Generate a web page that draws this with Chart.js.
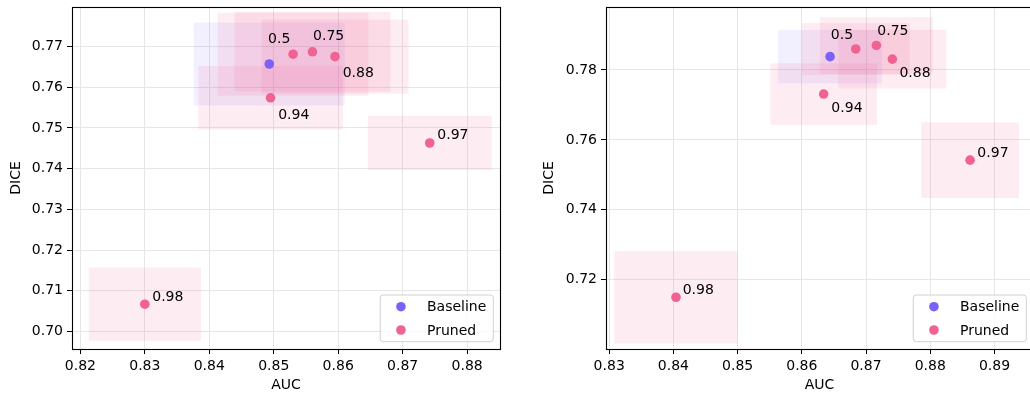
<!DOCTYPE html>
<html>
<head>
<meta charset="utf-8">
<script src="https://cdn.jsdelivr.net/npm/chart.js@4.4.1/dist/chart.umd.min.js"></script>
<style>
  html, body { margin: 0; padding: 0; background: #fff; overflow: hidden; }
  #wrap { position: relative; width: 1030px; height: 397px; overflow: hidden; }
  #left { position: absolute; left: 0; top: 0; }
  #right { position: absolute; left: 530px; top: 0; }
</style>
</head>
<body>
<div id="wrap">
  <canvas id="left" width="530" height="397"></canvas>
  <canvas id="right" width="530" height="397"></canvas>
</div>
<script>
// Pruning ratios of the pruned models
const pruneRatios = ['0.5', '0.75', '0.88', '0.94', '0.97', '0.98'];

// Left panel: mean AUC / DICE and their standard deviations
const baselineAucA = 0.8493;
const baselineDiceA = 0.7657;
const baselineAucStdA = 0.0117;
const baselineDiceStdA = 0.0102;
const prunedAucA = [0.8530, 0.8560, 0.8595, 0.8495, 0.8742, 0.8300];
const prunedDiceA = [0.7681, 0.7687, 0.7675, 0.7574, 0.7463, 0.7067];
const prunedAucStdA = [0.0117, 0.0121, 0.0114, 0.0112, 0.0096, 0.0087];
const prunedDiceStdA = [0.0102, 0.0098, 0.0091, 0.0078, 0.0067, 0.0090];
const xTicksA = [0.82, 0.83, 0.84, 0.85, 0.86, 0.87, 0.88];
const yTicksA = [0.70, 0.71, 0.72, 0.73, 0.74, 0.75, 0.76, 0.77];

// Right panel
const baselineAucB = 0.8644;
const baselineDiceB = 0.7838;
const baselineAucStdB = 0.0081;
const baselineDiceStdB = 0.0076;
const prunedAucB = [0.8684, 0.8716, 0.8741, 0.8634, 0.8862, 0.8404];
const prunedDiceB = [0.7860, 0.7870, 0.7831, 0.7731, 0.7542, 0.7150];
const prunedAucStdB = [0.0084, 0.0088, 0.0084, 0.0083, 0.0076, 0.0096];
const prunedDiceStdB = [0.0074, 0.0081, 0.0084, 0.0088, 0.0108, 0.0132];
const xTicksB = [0.83, 0.84, 0.85, 0.86, 0.87, 0.88, 0.89];
const yTicksB = [0.72, 0.74, 0.76, 0.78];

// ---- styling ----
const FONT = 'DejaVu Sans';
const BASE_COLOR = '#7b61f8';
const PRUNED_COLOR = '#f06292';
const BASE_BOX = 'rgba(123, 97, 248, 0.10)';
const PRUNED_BOX = 'rgba(240, 98, 146, 0.12)';
const GRID_COLOR = '#e6e6e6';

// text placement of the ratio annotations, relative to each point (left x, baseline y)
const labelPlacementA = [[-25, -11], [0.6, -12], [7.7, 20.6], [7.6, 21.3], [7.6, -4], [7.4, -3.6]];
const labelPlacementB = [[-25, -9.7], [1, -10], [7, 17.4], [7.7, 17.7], [7.3, -3.3], [6.7, -3.4]];

function panelPlugin(p) {
  return {
    id: 'panelDecor',
    beforeDatasetsDraw(chart) {
      const { ctx, chartArea: a, scales: { x, y } } = chart;
      ctx.save();
      ctx.beginPath();
      ctx.rect(a.left, a.top, a.right - a.left, a.bottom - a.top);
      ctx.clip();
      const box = (cx, cy, sx, sy, fill) => {
        const x0 = x.getPixelForValue(cx - sx), x1 = x.getPixelForValue(cx + sx);
        const y0 = y.getPixelForValue(cy + sy), y1 = y.getPixelForValue(cy - sy);
        ctx.fillStyle = fill;
        ctx.fillRect(x0, y0, x1 - x0, y1 - y0);
      };
      box(p.baseAuc, p.baseDice, p.baseAucStd, p.baseDiceStd, BASE_BOX);
      p.auc.forEach((v, i) => box(v, p.dice[i], p.aucStd[i], p.diceStd[i], PRUNED_BOX));
      ctx.restore();
    },
    afterDatasetsDraw(chart) {
      const { ctx, scales: { x, y } } = chart;
      ctx.save();
      ctx.font = '14px "' + FONT + '"';
      ctx.fillStyle = '#000';
      ctx.textAlign = 'left';
      ctx.textBaseline = 'alphabetic';
      p.auc.forEach((v, i) => {
        const px = x.getPixelForValue(v), py = y.getPixelForValue(p.dice[i]);
        const [dx, dy] = p.labelPlacement[i];
        ctx.fillText(pruneRatios[i], px + dx, py + dy);
      });
      ctx.restore();
    },
    afterDraw(chart) {
      const { ctx, chartArea: a } = chart;
      ctx.save();
      // frame
      ctx.strokeStyle = '#000';
      ctx.lineWidth = 1.1;
      ctx.strokeRect(Math.round(a.left) + 0.5, Math.round(a.top) + 0.5,
        Math.round(a.right - a.left), Math.round(a.bottom - a.top));
      // legend inside the lower right corner
      ctx.font = '14px "' + FONT + '"';
      const tw = Math.max(...chart.data.datasets.map(d => ctx.measureText(d.label).width));
      const w = 46.7 + tw + 7, h = 46.7;
      const bx = a.right - 6.7 - w, by = a.bottom - 7.3 - h;
      ctx.beginPath();
      ctx.roundRect(bx, by, w, h, 3);
      ctx.fillStyle = 'rgba(255,255,255,0.8)';
      ctx.fill();
      ctx.strokeStyle = '#d0d0d0';
      ctx.lineWidth = 1;
      ctx.stroke();
      ctx.textBaseline = 'middle';
      ctx.textAlign = 'left';
      chart.data.datasets.forEach((d, i) => {
        const ry = by + 11.7 + i * 23.3;
        ctx.beginPath();
        ctx.arc(bx + 20.7, ry, 4.8, 0, Math.PI * 2);
        ctx.fillStyle = d.backgroundColor;
        ctx.fill();
        ctx.fillStyle = '#000';
        ctx.fillText(d.label, bx + 46.7, ry + 1);
      });
      ctx.restore();
    }
  };
}

function makePanel(id, p) {
  const tickFont = { family: FONT, size: 14 };
  new Chart(document.getElementById(id), {
    type: 'scatter',
    data: {
      datasets: [
        {
          label: 'Baseline',
          data: [{ x: p.baseAuc, y: p.baseDice }],
          backgroundColor: BASE_COLOR,
          pointRadius: 4.8,
          borderWidth: 0
        },
        {
          label: 'Pruned',
          data: p.auc.map((v, i) => ({ x: v, y: p.dice[i] })),
          backgroundColor: PRUNED_COLOR,
          pointRadius: 4.8,
          borderWidth: 0
        }
      ]
    },
    options: {
      responsive: false,
      animation: false,
      events: [],
      layout: { padding: p.padding },
      plugins: { legend: { display: false }, tooltip: { enabled: false } },
      scales: {
        x: {
          type: 'linear',
          min: p.xMin, max: p.xMax,
          afterBuildTicks: s => { s.ticks = p.xTicks.map(v => ({ value: v })); },
          afterFit: s => { s.height = 48; s.paddingLeft = 0; s.paddingRight = 0; },
          ticks: {
            callback: v => v.toFixed(2), font: tickFont, color: '#000',
            padding: 4, maxRotation: 0, autoSkip: false
          },
          grid: { color: GRID_COLOR, lineWidth: 1, tickColor: '#000', tickLength: 5 },
          border: { display: false },
          title: {
            display: true, text: 'AUC', color: '#000',
            font: { family: FONT, size: 14 }, padding: { top: 0, bottom: 3.2 }
          }
        },
        y: {
          type: 'linear',
          min: p.yMin, max: p.yMax,
          afterBuildTicks: s => { s.ticks = p.yTicks.map(v => ({ value: v })); },
          afterFit: s => { s.width = p.yAxisWidth; s.paddingTop = 0; s.paddingBottom = 0; },
          ticks: {
            callback: v => v.toFixed(2), font: tickFont, color: '#000',
            padding: 4, autoSkip: false
          },
          grid: { color: GRID_COLOR, lineWidth: 1, tickColor: '#000', tickLength: 5 },
          border: { display: false },
          title: {
            display: true, text: 'DICE', color: '#000',
            font: { family: FONT, size: 14 }, padding: { top: p.yTitlePad, bottom: 0 }
          }
        }
      }
    },
    plugins: [panelPlugin(p)]
  });
}

makePanel('left', {
  baseAuc: baselineAucA, baseDice: baselineDiceA,
  baseAucStd: baselineAucStdA, baseDiceStd: baselineDiceStdA,
  auc: prunedAucA, dice: prunedDiceA, aucStd: prunedAucStdA, diceStd: prunedDiceStdA,
  xTicks: xTicksA, yTicks: yTicksA,
  xMin: 0.8187, xMax: 0.8851, yMin: 0.6957, yMax: 0.7797,
  padding: { left: 0, top: 7, right: 30, bottom: 0 },
  yAxisWidth: 72, yTitlePad: 7.6,
  labelPlacement: labelPlacementA
});

makePanel('right', {
  baseAuc: baselineAucB, baseDice: baselineDiceB,
  baseAucStd: baselineAucStdB, baseDiceStd: baselineDiceStdB,
  auc: prunedAucB, dice: prunedDiceB, aucStd: prunedAucStdB, diceStd: prunedDiceStdB,
  xTicks: xTicksB, yTicks: yTicksB,
  xMin: 0.8295, xMax: 0.8960, yMin: 0.7002, yMax: 0.7980,
  padding: { left: 0, top: 7, right: 27, bottom: 0 },
  yAxisWidth: 76, yTitlePad: 10.6,
  labelPlacement: labelPlacementB
});
</script>
</body>
</html>
